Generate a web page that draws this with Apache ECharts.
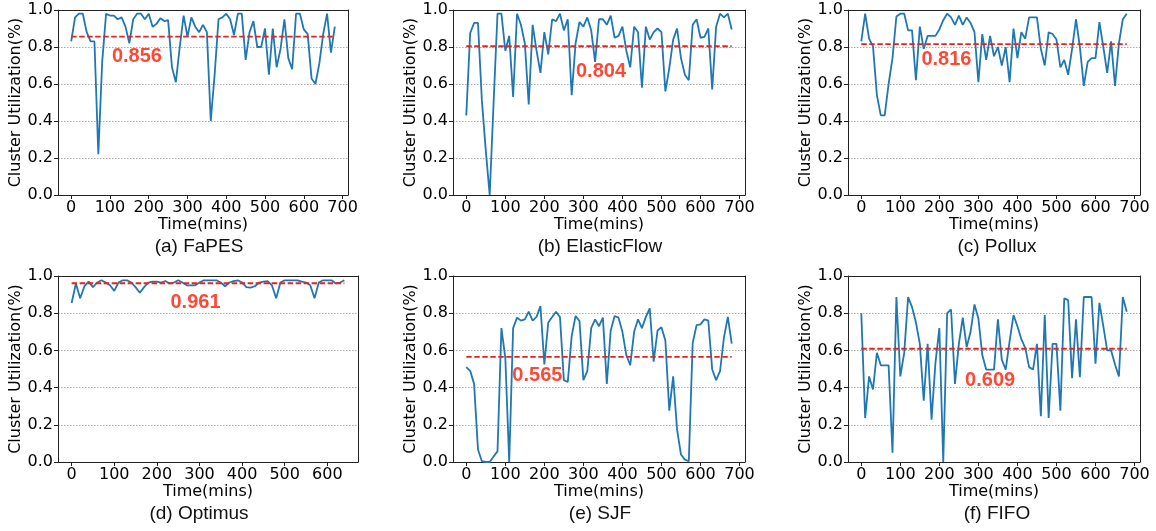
<!DOCTYPE html>
<html>
<head>
<meta charset="utf-8">
<script src="https://cdn.jsdelivr.net/npm/echarts@6/dist/echarts.min.js"></script>
<style>
  html, body { margin: 0; background: #fff; }
  #chart { width: 1156px; height: 531px; }
</style>
</head>
<body>
<div id="chart"></div>
<script>
// sample times (mins)
const timeMins = [0, 10, 20, 30, 40, 50, 60, 70, 80, 90, 100, 110, 120, 130, 140, 150, 160, 170, 180, 190,
  200, 210, 220, 230, 240, 250, 260, 270, 280, 290, 300, 310, 320, 330, 340, 350, 360, 370, 380, 390,
  400, 410, 420, 430, 440, 450, 460, 470, 480, 490, 500, 510, 520, 530, 540, 550, 560, 570, 580, 590,
  600, 610, 620, 630, 640, 650, 660, 670, 680];

const fapes = [0.83, 0.96, 0.98, 0.98, 0.88, 0.83, 0.83, 0.22, 0.72, 0.98, 0.97, 0.97, 0.95, 0.96, 0.91,
  0.82, 0.95, 0.98, 0.98, 0.95, 0.98, 0.91, 0.925, 0.955, 0.94, 0.945, 0.69, 0.61, 0.80, 0.97,
  0.855, 0.96, 0.91, 0.88, 0.92, 0.88, 0.40, 0.65, 0.95, 0.96, 0.98, 0.95, 0.865, 0.98, 0.98,
  0.73, 0.88, 0.94, 0.80, 0.80, 0.90, 0.65, 0.90, 0.69, 0.79, 0.95, 0.74, 0.68, 0.98, 0.98,
  0.895, 0.87, 0.63, 0.60, 0.71, 0.87, 0.98, 0.77, 0.91];

const elasticFlow = [0.43, 0.875, 0.93, 0.93, 0.51, 0.24, 0.0, 0.50, 0.98, 0.98, 0.78, 0.86, 0.53, 0.98,
  0.92, 0.82, 0.49, 0.92, 0.78, 0.66, 0.88, 0.76, 0.95, 0.94, 0.98, 0.89, 0.95, 0.54, 0.82,
  0.935, 0.91, 0.96, 0.89, 0.72, 0.95, 0.95, 0.92, 0.97, 0.85, 0.86, 0.91, 0.78, 0.69, 0.91,
  0.88, 0.58, 0.91, 0.84, 0.88, 0.90, 0.88, 0.56, 0.685, 0.84, 0.90, 0.74, 0.65, 0.62, 0.92,
  0.95, 0.85, 0.855, 0.90, 0.57, 0.91, 0.98, 0.96, 0.98, 0.895];

const pollux = [0.83, 0.98, 0.845, 0.805, 0.54, 0.43, 0.43, 0.60, 0.74, 0.965, 0.98, 0.98, 0.89, 0.89,
  0.62, 0.91, 0.79, 0.86, 0.86, 0.86, 0.895, 0.945, 0.98, 0.96, 0.92, 0.97, 0.92, 0.96, 0.93,
  0.88, 0.61, 0.87, 0.73, 0.86, 0.75, 0.80, 0.70, 0.80, 0.61, 0.90, 0.74, 0.88, 0.845, 0.96,
  0.96, 0.96, 0.79, 0.70, 0.88, 0.87, 0.84, 0.69, 0.73, 0.65, 0.79, 0.95, 0.80, 0.59, 0.72,
  0.74, 0.74, 0.935, 0.80, 0.66, 0.83, 0.59, 0.82, 0.95, 0.98];

const optimus = [0.855, 0.96, 0.88, 0.945, 0.97, 0.94, 0.965, 0.977, 0.965, 0.95, 0.92, 0.965, 0.977,
  0.977, 0.965, 0.94, 0.91, 0.94, 0.965, 0.97, 0.97, 0.965, 0.973, 0.96, 0.965, 0.977, 0.965,
  0.95, 0.95, 0.95, 0.965, 0.977, 0.977, 0.977, 0.977, 0.965, 0.945, 0.965, 0.973, 0.977, 0.965,
  0.94, 0.937, 0.945, 0.965, 0.97, 0.973, 0.95, 0.88, 0.965, 0.977, 0.977, 0.977, 0.977, 0.97,
  0.965, 0.95, 0.88, 0.965, 0.977, 0.977, 0.977, 0.96, 0.965, 0.977];

const sjf = [0.51, 0.49, 0.42, 0.067, 0.004, 0.0, 0.0, 0.03, 0.057, 0.72, 0.56, 0.0, 0.72, 0.776, 0.76,
  0.767, 0.808, 0.76, 0.78, 0.838, 0.524, 0.75, 0.78, 0.808, 0.78, 0.44, 0.43, 0.677, 0.785,
  0.758, 0.44, 0.488, 0.72, 0.767, 0.73, 0.776, 0.42, 0.707, 0.785, 0.776, 0.70, 0.575, 0.52,
  0.70, 0.767, 0.72, 0.78, 0.826, 0.54, 0.707, 0.725, 0.653, 0.276, 0.46, 0.174, 0.04, 0.013,
  0.004, 0.64, 0.736, 0.74, 0.767, 0.76, 0.497, 0.44, 0.488, 0.668, 0.78, 0.636];

const fifo = [0.80, 0.237, 0.46, 0.39, 0.587, 0.52, 0.52, 0.52, 0.05, 0.887, 0.46, 0.587, 0.887, 0.833,
  0.75, 0.635, 0.33, 0.635, 0.228, 0.533, 0.72, 0.0, 0.80, 0.82, 0.42, 0.635, 0.776, 0.618, 0.70,
  0.847, 0.772, 0.575, 0.497, 0.497, 0.497, 0.767, 0.55, 0.497, 0.65, 0.79, 0.73, 0.66, 0.614,
  0.51, 0.497, 0.635, 0.246, 0.79, 0.237, 0.635, 0.635, 0.276, 0.88, 0.87, 0.45, 0.767, 0.456,
  0.887, 0.887, 0.887, 0.528, 0.856, 0.73, 0.60, 0.60, 0.524, 0.46, 0.887, 0.808];

const means = [0.856, 0.804, 0.816, 0.961, 0.565, 0.609];
const captions = ['(a) FaPES', '(b) ElasticFlow', '(c) Pollux', '(d) Optimus', '(e) SJF', '(f) FIFO'];
const seriesData = [fapes, elasticFlow, pollux, optimus, sjf, fifo];
const xTicksLong = [0, 100, 200, 300, 400, 500, 600, 700];
const xTicksShort = [0, 100, 200, 300, 400, 500, 600];

// layout of each subplot (px) + where the mean value text sits (data units)
const panels = [
  { left: 58,  top: 10,  width: 290, height: 185, xmin: -34, xmax: 714, ticks: xTicksLong,  cap: 194, txt: [105, 0.748] },
  { left: 453, top: 10,  width: 292, height: 185, xmin: -34, xmax: 714, ticks: xTicksLong,  cap: 595, txt: [281, 0.67] },
  { left: 848, top: 10,  width: 292, height: 185, xmin: -34, xmax: 714, ticks: xTicksLong,  cap: 992, txt: [154, 0.733] },
  { left: 58,  top: 276, width: 300, height: 186, xmin: -32, xmax: 672, ticks: xTicksShort, cap: 194, txt: [232, 0.855] },
  { left: 453, top: 276, width: 292, height: 186, xmin: -34, xmax: 714, ticks: xTicksLong,  cap: 595, txt: [118, 0.463] },
  { left: 848, top: 276, width: 292, height: 186, xmin: -34, xmax: 714, ticks: xTicksLong,  cap: 992, txt: [266, 0.436] },
];

const tickFont = { fontFamily: 'DejaVu Sans', fontSize: 16, color: '#000' };
const axisColor = '#222';
const frameOnly = {
  axisLine: { show: true, onZero: false, lineStyle: { color: axisColor } },
  axisTick: { show: false }, axisLabel: { show: false }, splitLine: { show: false }
};

const grid = [], xAxis = [], yAxis = [], title = [], series = [];

panels.forEach((p, i) => {
  grid.push({ left: p.left, top: p.top, width: p.width, height: p.height, show: false });
  xAxis.push({
    gridIndex: i, type: 'value', min: p.xmin, max: p.xmax, position: 'bottom',
    axisLine: { show: true, onZero: false, lineStyle: { color: axisColor } },
    axisTick: { show: true, customValues: p.ticks, length: 4, lineStyle: { color: axisColor } },
    axisLabel: Object.assign({ customValues: p.ticks, margin: 5 }, tickFont),
    splitLine: { show: false },
    name: 'Time(mins)', nameLocation: 'middle', nameGap: 21,
    nameTextStyle: tickFont
  });
  // top spine
  xAxis.push(Object.assign({ gridIndex: i, type: 'value', min: p.xmin, max: p.xmax, position: 'top' }, frameOnly));
  yAxis.push({
    gridIndex: i, type: 'value', min: 0, max: 1, interval: 0.2, position: 'left',
    axisLine: { show: true, onZero: false, lineStyle: { color: axisColor } },
    axisTick: { show: true, length: 4, lineStyle: { color: axisColor } },
    axisLabel: Object.assign({ margin: 5, formatter: v => v.toFixed(1) }, tickFont),
    splitLine: { show: true, lineStyle: { color: '#aaa', type: [1.5, 1.5], width: 1 } },
    name: 'Cluster Utilization(%)', nameLocation: 'middle', nameGap: 33, nameRotate: 90,
    nameTextStyle: tickFont
  });
  // right spine
  yAxis.push(Object.assign({ gridIndex: i, type: 'value', min: 0, max: 1, position: 'right' }, frameOnly));
  title.push({
    text: captions[i], left: p.cap, top: p.top + p.height + 37, textAlign: 'center',
    textStyle: { fontFamily: 'Liberation Sans', fontSize: 19, fontWeight: 'normal', color: '#111' }
  });

  const ys = seriesData[i];
  const pts = ys.map((v, k) => [timeMins[k], v]);
  const lastT = timeMins[ys.length - 1];
  const xi = i * 2, yi = i * 2;
  series.push({
    type: 'line', xAxisIndex: xi, yAxisIndex: yi, data: pts,
    showSymbol: false, lineStyle: { color: '#1f77b4', width: 1.8 }, z: 3
  });
  series.push({
    type: 'line', xAxisIndex: xi, yAxisIndex: yi,
    data: [[0, means[i]], [lastT, means[i]]],
    showSymbol: false, lineStyle: { color: '#e8231f', width: 1.8, type: [5.5, 2.5] }, z: 4
  });
  series.push({
    type: 'scatter', xAxisIndex: xi, yAxisIndex: yi, data: [p.txt],
    symbolSize: 0, z: 5,
    label: {
      show: true, position: 'right', distance: 0,
      formatter: () => means[i].toFixed(3),
      fontFamily: 'Liberation Sans', fontSize: 20, fontWeight: 'bold', color: '#ff1a00'
    }
  });
});

const chart = echarts.init(document.getElementById('chart'), null, { renderer: 'canvas' });
chart.setOption({
  animation: false,
  backgroundColor: '#fff',
  grid, xAxis, yAxis, title, series
});
</script>
</body>
</html>
